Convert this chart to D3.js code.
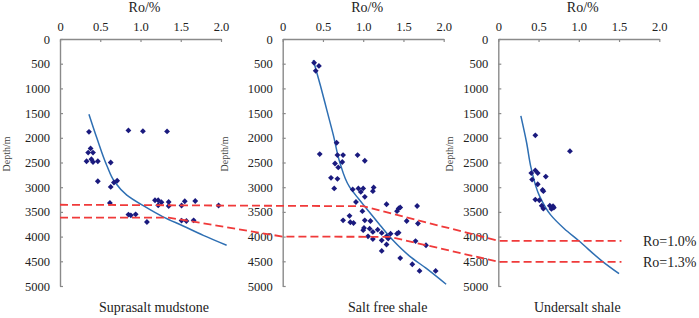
<!DOCTYPE html>
<html>
<head>
<meta charset="utf-8">
<script src="https://cdn.jsdelivr.net/npm/d3@7"></script>
<style>
body { margin: 0; background: #fff; }
svg text { font-family: "Liberation Serif", "Times New Roman", serif; }
</style>
</head>
<body>
<div id="chart"></div>
<script>
// panels
const panelNames = ["Suprasalt mudstone", "Salt free shale", "Undersalt shale"]
const roTicks = [0, 0.5, 1.0, 1.5, 2.0]
const roTickLabels = ["0", "0.5", "1.0", "1.5", "2.0"]
const depthTicks = [0, 500, 1000, 1500, 2000, 2500, 3000, 3500, 4000, 4500, 5000]

// measured samples [Ro %, depth m]
const supraPoints = [
    [0.36, 1880], [0.85, 1850], [1.03, 1865], [1.33, 1870],
    [0.38, 2215], [0.35, 2300], [0.41, 2300], [0.33, 2475], [0.39, 2435], [0.41, 2490], [0.47, 2475], [0.63, 2500],
    [0.47, 2880], [0.63, 2995], [0.67, 2905], [0.71, 2870],
    [0.62, 3320], [1.18, 3265], [1.22, 3265], [1.26, 3305], [1.22, 3365], [1.35, 3300], [1.35, 3380],
    [1.51, 3370], [1.55, 3285], [1.68, 3280], [1.97, 3370],
    [0.85, 3555], [0.88, 3570], [0.94, 3550], [1.08, 3705], [1.51, 3675], [1.57, 3685], [1.66, 3670]
]
const saltFreePoints = [
    [0.39, 480], [0.45, 545], [0.41, 645],
    [0.67, 2100], [0.46, 2330], [0.68, 2350], [0.75, 2350], [0.93, 2350], [1.02, 2465],
    [0.65, 2520], [0.74, 2490], [0.69, 2600], [0.60, 2810], [0.68, 2830],
    [0.64, 3025], [0.87, 3045], [0.94, 3025], [0.97, 3095], [1.00, 3025], [1.13, 3005], [1.12, 3080], [1.02, 3195],
    [0.91, 3300], [1.29, 3345], [1.44, 3430], [1.42, 3485], [1.46, 3410], [1.67, 3380],
    [0.99, 3485], [0.75, 3670], [0.83, 3580], [0.84, 3710], [0.88, 3725], [1.02, 3670], [1.09, 3685],
    [1.54, 3685], [1.68, 3735],
    [1.01, 3825], [1.00, 3870], [1.08, 3840], [1.12, 3905], [1.18, 3860], [1.23, 3925],
    [1.06, 3995], [1.12, 4050], [1.23, 4075], [1.29, 3995], [1.34, 3940], [1.31, 4040], [1.42, 3940], [1.44, 3920],
    [1.65, 4090], [1.78, 4175],
    [1.29, 4160], [1.23, 4290], [1.46, 4435], [1.61, 4560], [1.70, 4695], [1.90, 4695]
]
const underPoints = [
    [0.46, 1950], [0.89, 2270], [0.41, 2715], [0.46, 2660], [0.49, 2715], [0.42, 2845], [0.59, 2785],
    [0.49, 2940], [0.55, 3055], [0.56, 3080], [0.46, 3250], [0.51, 3265], [0.54, 3375], [0.56, 3435],
    [0.64, 3375], [0.68, 3385], [0.66, 3440], [0.69, 3415]
]

// trend curves
const supraTrend = [[0.36, 1525], [0.46, 2015], [0.58, 2555], [0.68, 2895], [0.83, 3160], [1.04, 3380],
    [1.28, 3600], [1.53, 3785], [1.78, 3975], [2.07, 4175]]
const saltFreeTrend = [[0.38, 425], [0.47, 950], [0.55, 1450], [0.63, 1950], [0.71, 2500], [0.83, 2995],
    [0.94, 3230], [1.04, 3430], [1.21, 3770], [1.37, 4075], [1.58, 4400], [1.78, 4640], [2.03, 4965]]
const underTrend = [[0.28, 1555], [0.35, 2085], [0.41, 2630], [0.51, 3170], [0.65, 3560], [0.82, 3840],
    [1.0, 4085], [1.3, 4510], [1.5, 4750]]

// iso-Ro lines [panel, Ro, depth]
const ro10Line = [[0, 0, 3355], [1, 1.0, 3385], [2, 0, 4085], [2, 1.53, 4085]]
const ro13Line = [[0, 0, 3615], [0, 1.35, 3615], [1, 0, 4000], [1, 1.33, 4005], [2, 0, 4510], [2, 1.53, 4510]]
const isoLabels = ["Ro=1.0%", "Ro=1.3%"]

const width = 699, height = 318
const panelLeft = [60, 282.7, 498.3]
const panelWidth = 161
const titleOffset = [94, 105, 79]
const depthLabelX = [6, 224, 449]
const axisColor = "#8a8a8a"
const serif = "'Liberation Serif', 'Times New Roman', serif"

const svg = d3.select("#chart")
    .append("svg")
    .attr("width", width)
    .attr("height", height)

const y = d3.scaleLinear().domain([0, 5000]).range([39, 286])
const xScales = panelLeft.map(l => d3.scaleLinear().domain([0, 2]).range([l, l + panelWidth]))

const points = [supraPoints, saltFreePoints, underPoints]
const trends = [supraTrend, saltFreeTrend, underTrend]

panelNames.forEach((name, i) => {
    const x = xScales[i]
    const g = svg.append("g")

    const yAxis = g.append("g")
        .attr("transform", `translate(${panelLeft[i]},0)`)
        .call(d3.axisLeft(y).tickValues(depthTicks).tickFormat(d3.format("d"))
            .tickSizeInner(-3).tickSizeOuter(0).tickPadding(10))
    const xAxis = g.append("g")
        .attr("transform", `translate(0,${y(0)})`)
        .call(d3.axisTop(x).tickValues(roTicks).tickFormat((d, k) => roTickLabels[k])
            .tickSizeInner(-3).tickSizeOuter(0).tickPadding(8))

    ;[yAxis, xAxis].forEach(a => {
        a.attr("font-size", 12.5).attr("font-family", serif)
        a.select(".domain").attr("stroke", axisColor).attr("stroke-width", 1.4)
        a.selectAll(".tick line").attr("stroke", axisColor).attr("stroke-width", 1.2)
        a.selectAll(".tick text").attr("fill", "#222")
    })

    g.append("text")
        .attr("x", panelLeft[i] + panelWidth / 2 + 4)
        .attr("y", 12)
        .attr("text-anchor", "middle")
        .attr("font-size", 14)
        .attr("fill", "#222")
        .text("Ro/%")

    g.append("text")
        .attr("transform", `translate(${depthLabelX[i]},154) rotate(-90)`)
        .attr("text-anchor", "middle")
        .attr("dy", "0.35em")
        .attr("font-size", 10)
        .attr("fill", "#444")
        .text("Depth/m")

    g.append("text")
        .attr("x", panelLeft[i] + titleOffset[i])
        .attr("y", 312)
        .attr("text-anchor", "middle")
        .attr("font-size", 14)
        .attr("fill", "#222")
        .text(name)

    g.append("path")
        .datum(trends[i])
        .attr("fill", "none")
        .attr("stroke", "#2e6fb3")
        .attr("stroke-width", 1.5)
        .attr("d", d3.line().x(d => x(d[0])).y(d => y(d[1])).curve(d3.curveMonotoneY))

    g.selectAll(".pt")
        .data(points[i])
        .join("path")
        .attr("class", "pt")
        .attr("d", d3.symbol(d3.symbolSquare, 17))
        .attr("transform", d => `translate(${x(d[0])},${y(d[1])}) rotate(45)`)
        .attr("fill", "#1a1a7e")
})

const isoLine = d3.line()
    .x(d => xScales[d[0]](d[1]))
    .y(d => y(d[2]))

;[ro10Line, ro13Line].forEach((line, i) => {
    svg.append("path")
        .datum(line)
        .attr("fill", "none")
        .attr("stroke", "#f03a3a")
        .attr("stroke-width", 1.8)
        .attr("stroke-dasharray", "8,4")
        .attr("d", isoLine)

    const last = line[line.length - 1]
    svg.append("text")
        .attr("x", 643)
        .attr("y", y(last[2]) + 5)
        .attr("font-size", 14)
        .attr("fill", "#222")
        .text(isoLabels[i])
})
</script>
</body>
</html>
